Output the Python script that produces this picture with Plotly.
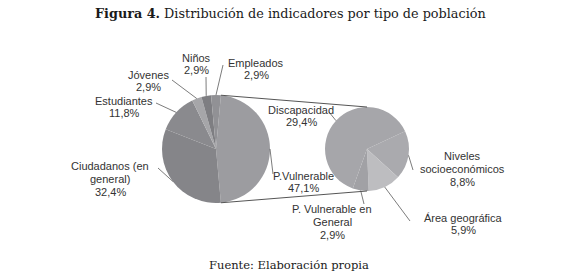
import math
import plotly.graph_objects as go

# ---------------- data ----------------
main_labels = ["P.Vulnerable", "Ciudadanos (en\ngeneral)", "Estudiantes", "Jóvenes", "Niños", "Empleados"]
main_values = [47.1, 32.4, 11.8, 2.9, 2.9, 2.9]
sub_labels = ["Niveles\nsocioeconómicos", "Área geográfica", "P. Vulnerable en\nGeneral", "Discapacidad"]
sub_values = [8.8, 5.9, 2.9, 29.4]
title_bold = "Figura 4."
title_text = "Distribución de indicadores por tipo de población"
source_text = "Fuente: Elaboración propia"

# ---------------- styles / layout ----------------
W, H = 580, 277
main_colors = ["#9c9ca0", "#858589", "#8a8a8e", "#a6a6a9", "#7e7e82", "#919195"]
sub_colors = ["#aaaaae", "#bdbdc0", "#a1a1a5", "#a6a6aa"]
main_geo = dict(cx=216, cy=149, r=54)
sub_geo = dict(cx=367, cy=149, r=42)
sub_rotation = 65
label_font = dict(family="Liberation Sans, Arial", size=11, color="#333333")
line_gap = 12.6
# label block centers (px) and leader-line anchor near the text (px)
main_label_pos = [(303, 182), (110, 179), (124, 107), (148, 81), (196, 64), (256, 69)]
main_anchor = [(273, 174), (158, 168), (156, 103), (172, 80), (206, 77), (223, 65)]
sub_label_pos = [(462, 169), (463, 224), (332, 222), (301, 116)]
sub_anchor = [(413, 170), (410, 221), (364, 204), (329, 112)]


def px(x, y):
    return x / W, 1 - y / H


def rim(geo, ang):
    a = math.radians(ang)
    return geo["cx"] + geo["r"] * math.sin(a), geo["cy"] - geo["r"] * math.cos(a)


def domain(geo):
    x0, y0 = px(geo["cx"] - geo["r"], geo["cy"] + geo["r"])
    x1, y1 = px(geo["cx"] + geo["r"], geo["cy"] - geo["r"])
    return dict(x=[x0, x1], y=[y0, y1])


def fmt(v):
    return f"{v:.1f}".replace(".", ",") + "%"


main_total = sum(main_values)
sub_total = sum(sub_values)
pv_span = main_values[0] / main_total * 360
main_rotation = 90 - pv_span / 2

fig = go.Figure()
fig.add_trace(go.Pie(
    values=main_values, labels=[l.replace("\n", " ") for l in main_labels],
    marker=dict(colors=main_colors, line=dict(width=0)),
    sort=False, direction="clockwise", rotation=main_rotation,
    textinfo="none", hoverinfo="label+percent", domain=domain(main_geo), showlegend=False,
))
fig.add_trace(go.Pie(
    values=sub_values, labels=[l.replace("\n", " ") for l in sub_labels],
    marker=dict(colors=sub_colors, line=dict(width=0)),
    sort=False, direction="clockwise", rotation=sub_rotation,
    textinfo="none", hoverinfo="label+percent", domain=domain(sub_geo), showlegend=False,
))

shapes = []
annotations = []


def add_labels(labels, values, total, rot, geo, pos, anchors):
    cum = 0
    for lab, v, (lx, ly), (ax, ay) in zip(labels, values, pos, anchors):
        mid = rot + (cum + v / 2) / total * 360
        cum += v
        rx, ry = rim(geo, mid)
        x0, y0 = px(ax, ay)
        x1, y1 = px(rx, ry)
        shapes.append(dict(type="path", xref="paper", yref="paper",
                           path=f"M {x0} {y0} L {x1} {y1}",
                           line=dict(color="#5a5a5a", width=0.8)))
        lines = lab.split("\n") + [fmt(v)]
        n = len(lines)
        for i, t in enumerate(lines):
            tx, ty = px(lx, ly + (i - (n - 1) / 2) * line_gap)
            annotations.append(dict(x=tx, y=ty, xref="paper", yref="paper", text=t,
                                    showarrow=False, xanchor="center", yanchor="middle",
                                    font=label_font))


add_labels(main_labels, main_values, main_total, main_rotation, main_geo, main_label_pos, main_anchor)
add_labels(sub_labels, sub_values, sub_total, sub_rotation, sub_geo, sub_label_pos, sub_anchor)

# connector lines between pies
for a_main, a_sub in [(main_rotation, 0), (main_rotation + pv_span, 180)]:
    x0, y0 = px(*rim(main_geo, a_main))
    x1, y1 = px(*rim(sub_geo, a_sub))
    shapes.append(dict(type="line", xref="paper", yref="paper", x0=x0, y0=y0, x1=x1, y1=y1,
                       line=dict(color="#555555", width=1)))

tx, ty = px(290, 13)
annotations.append(dict(x=tx, y=ty, xref="paper", yref="paper", showarrow=False,
                        text=f"<b>{title_bold}</b> {title_text}", xanchor="center", yanchor="middle",
                        font=dict(family="DejaVu Serif, serif", size=12.8, color="#1a1a1a")))
sx, sy = px(289, 265)
annotations.append(dict(x=sx, y=sy, xref="paper", yref="paper", showarrow=False,
                        text=source_text, xanchor="center", yanchor="middle",
                        font=dict(family="DejaVu Serif, serif", size=11.5, color="#1a1a1a")))

fig.update_layout(
    width=W, height=H, margin=dict(l=0, r=0, t=0, b=0),
    paper_bgcolor="white", plot_bgcolor="white",
    shapes=shapes, annotations=annotations,
)
fig.write_html("out.html", config={"displayModeBar": False},
               post_script="document.body.style.margin='0';")
